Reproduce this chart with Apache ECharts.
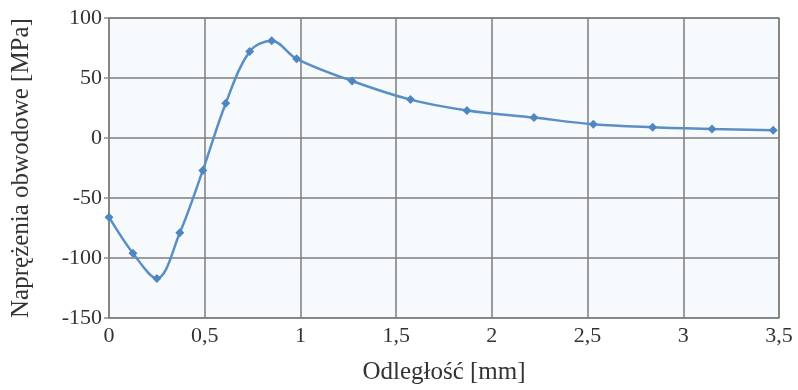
<!DOCTYPE html>
<html>
<head>
<meta charset="utf-8">
<script src="https://cdn.jsdelivr.net/npm/echarts@6/dist/echarts.min.js"></script>
<style>
  html, body { margin: 0; padding: 0; background: #fff; }
  #chart { width: 798px; height: 390px; }
</style>
</head>
<body>
<div id="chart"></div>
<script>
// odległość [mm] i naprężenia [MPa]
var distances = [0, 0.125, 0.25, 0.37, 0.49, 0.61, 0.735, 0.85, 0.98, 1.27, 1.575, 1.87, 2.22, 2.53, 2.84, 3.15, 3.47]
var stresses = [-66, -96, -117, -79, -27, 29, 72, 81, 66, 47.5, 32, 23, 17, 11.5, 9, 7.5, 6.5]

var points = distances.map(function (d, i) {
  return [d, stresses[i]]
})

function comma(v) {
  return String(v).replace('.', ',')
}

var myChart = echarts.init(document.getElementById('chart'))
var option = {
  animation: false,
  textStyle: { fontFamily: 'Liberation Serif' },
  grid: {
    left: 109,
    right: 19,
    top: 18,
    bottom: 72,
    show: true,
    backgroundColor: '#f7fafd',
    borderColor: '#8a8a8a',
    borderWidth: 1.5
  },
  xAxis: {
    type: 'value',
    min: 0,
    max: 3.5,
    interval: 0.5,
    name: 'Odległość [mm]',
    nameLocation: 'middle',
    nameGap: 42,
    nameTextStyle: { fontSize: 25, color: '#333', fontFamily: 'Liberation Serif' },
    axisLine: { show: false },
    axisTick: { show: false },
    axisLabel: {
      fontSize: 22,
      color: '#333',
      margin: 7,
      formatter: comma
    },
    splitLine: { lineStyle: { color: '#7c7c7c', width: 1.5 } }
  },
  yAxis: {
    type: 'value',
    min: -150,
    max: 100,
    interval: 50,
    name: 'Naprężenia obwodowe [MPa]',
    nameLocation: 'middle',
    nameGap: 75,
    nameTextStyle: { fontSize: 25, color: '#333', fontFamily: 'Liberation Serif' },
    axisLine: { show: false },
    axisTick: { show: true, length: 5, lineStyle: { color: '#8a8a8a', width: 1.5 } },
    axisLabel: { fontSize: 22, color: '#333', margin: 7 },
    splitLine: { lineStyle: { color: '#7c7c7c', width: 1.5 } }
  },
  series: [
    {
      type: 'line',
      data: points,
      smooth: 0.35,
      symbol: 'diamond',
      symbolSize: 9,
      lineStyle: { color: '#5a8fc6', width: 2.5 },
      itemStyle: { color: '#4f86c0' }
    }
  ]
}
myChart.setOption(option)
</script>
</body>
</html>
